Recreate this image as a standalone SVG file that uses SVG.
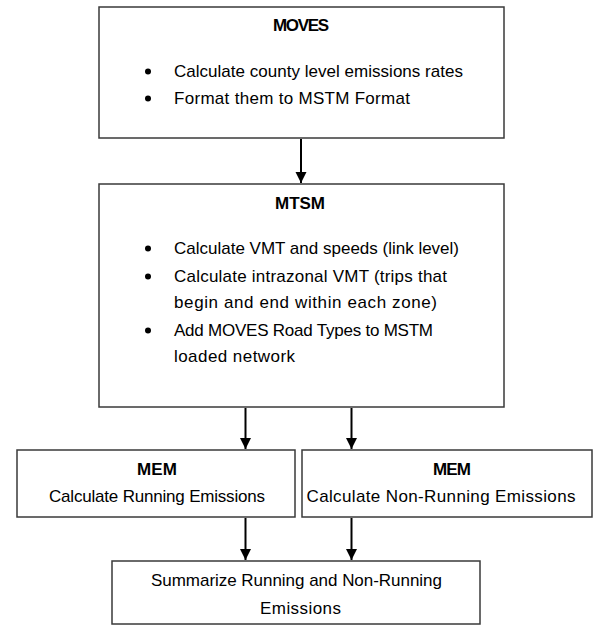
<svg xmlns="http://www.w3.org/2000/svg" width="598" height="626" viewBox="0 0 598 626">
<defs>
<marker id="ah" markerUnits="userSpaceOnUse" markerWidth="12" markerHeight="12" refX="11" refY="5.5" orient="auto">
<path d="M0,0 L11,5.5 L0,11 Z" fill="#000"/>
</marker>
<style>
.box{fill:#fff;stroke:#3a3a3a;stroke-width:1.5}
.t{font-family:"Liberation Sans",Arial,sans-serif;font-size:17px;fill:#000}
.b{font-weight:bold;text-anchor:middle}
.c{text-anchor:middle}
.edge{stroke:#000;stroke-width:2;fill:none;marker-end:url(#ah)}
</style>
</defs>
<rect width="598" height="626" fill="#fff"/>
<g id="connectors">
<line class="edge" x1="301" y1="139" x2="301" y2="183"/>
<line class="edge" x1="245.5" y1="408" x2="245.5" y2="449"/>
<line class="edge" x1="351.5" y1="408" x2="351.5" y2="449"/>
<line class="edge" x1="245.5" y1="518" x2="245.5" y2="560"/>
<line class="edge" x1="351.5" y1="518" x2="351.5" y2="560"/>
</g>
<g id="moves">
<rect class="box" x="99" y="7" width="405" height="131"/>
<text class="t b" x="301" y="31" textLength="56">MOVES</text>
<circle cx="148" cy="71.5" r="3"/>
<circle cx="148" cy="98.5" r="3"/>
<text class="t" x="174" y="77" textLength="289">Calculate county level emissions rates</text>
<text class="t" x="174" y="104" textLength="236">Format them to MSTM Format</text>
</g>
<g id="mtsm">
<rect class="box" x="99" y="184" width="405" height="223"/>
<text class="t b" x="300" y="209" textLength="50">MTSM</text>
<circle cx="148" cy="248.5" r="3"/>
<circle cx="148" cy="276.5" r="3"/>
<circle cx="148" cy="330.5" r="3"/>
<text class="t" x="174" y="254" textLength="285">Calculate VMT and speeds (link level)</text>
<text class="t" x="174" y="282" textLength="273">Calculate intrazonal VMT (trips that</text>
<text class="t" x="174" y="308" textLength="263">begin and end within each zone)</text>
<text class="t" x="174" y="336" textLength="259">Add MOVES Road Types to MSTM</text>
<text class="t" x="174" y="362" textLength="121">loaded network</text>
</g>
<g id="mem-running">
<rect class="box" x="17" y="450" width="278" height="67"/>
<text class="t b" x="157" y="475" textLength="40">MEM</text>
<text class="t c" x="157" y="502" textLength="216">Calculate Running Emissions</text>
</g>
<g id="mem-nonrunning">
<rect class="box" x="302" y="450" width="290" height="67"/>
<text class="t b" x="452" y="475" textLength="38">MEM</text>
<text class="t c" x="441" y="502" textLength="269">Calculate Non-Running Emissions</text>
</g>
<g id="summary">
<rect class="box" x="112" y="561" width="368" height="63"/>
<text class="t c" x="296.5" y="586" textLength="291">Summarize Running and Non-Running</text>
<text class="t c" x="300.5" y="614" textLength="81">Emissions</text>
</g>
</svg>
